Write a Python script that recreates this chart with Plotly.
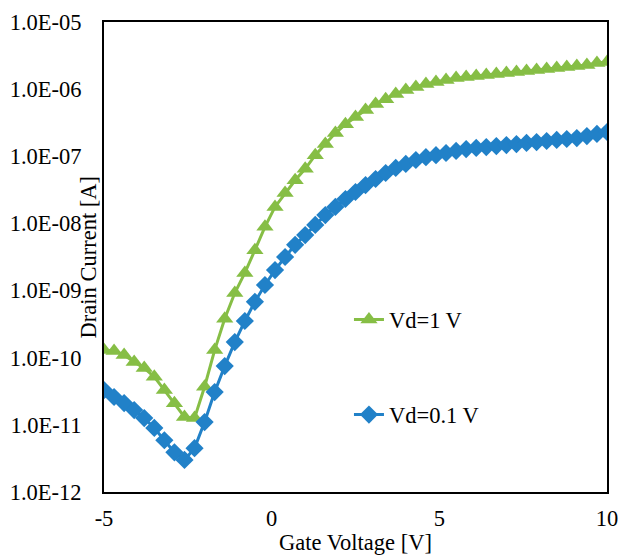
import numpy as np
import plotly.graph_objects as go

# Gate voltage sweep: -5 V to 10 V in 0.3 V steps (51 points)
gate_voltage = [round(-5 + 0.3 * i, 2) for i in range(51)]

drain_vd1 = [
    1.30e-10, 1.26e-10, 1.10e-10, 8.6e-11, 7.0e-11, 5.2e-11, 3.3e-11, 2.1e-11,
    1.31e-11, 1.26e-11, 3.7e-11, 1.30e-10, 3.8e-10, 9.2e-10, 1.83e-9, 4.0e-9,
    8.9e-9, 1.76e-8, 2.84e-8, 4.4e-8, 6.5e-8, 1.04e-7, 1.52e-7, 2.22e-7,
    3.0e-7, 3.85e-7, 4.9e-7, 6.0e-7, 7.1e-7, 8.5e-7, 9.7e-7, 1.08e-6,
    1.19e-6, 1.28e-6, 1.37e-6, 1.47e-6, 1.52e-6, 1.57e-6, 1.63e-6, 1.68e-6,
    1.74e-6, 1.80e-6, 1.86e-6, 1.93e-6, 2.00e-6, 2.07e-6, 2.14e-6, 2.21e-6,
    2.29e-6, 2.45e-6, 2.54e-6,
]

drain_vd01 = [
    3.3e-11, 2.60e-11, 2.11e-11, 1.66e-11, 1.26e-11, 9.0e-12, 5.9e-12, 3.9e-12,
    3.0e-12, 4.5e-12, 1.10e-11, 3.08e-11, 7.5e-11, 1.71e-10, 3.52e-10, 6.8e-10,
    1.21e-9, 2.02e-9, 3.16e-9, 4.8e-9, 6.7e-9, 9.5e-9, 1.33e-8, 1.76e-8,
    2.31e-8, 2.94e-8, 3.73e-8, 4.59e-8, 5.64e-8, 6.7e-8, 7.7e-8, 8.8e-8,
    9.7e-8, 1.04e-7, 1.12e-7, 1.20e-7, 1.28e-7, 1.33e-7, 1.37e-7, 1.42e-7,
    1.47e-7, 1.52e-7, 1.58e-7, 1.63e-7, 1.69e-7, 1.75e-7, 1.81e-7, 1.87e-7,
    2.00e-7, 2.15e-7, 2.30e-7,
]

x_tickvals = [-5, 0, 5, 10]
x_ticktext = ["-5", "0", "5", "10"]
y_tickvals = [1e-12, 1e-11, 1e-10, 1e-9, 1e-8, 1e-7, 1e-6, 1e-5]
y_ticktext = ["1.0E-12", "1.0E-11", "1.0E-10", "1.0E-09",
              "1.0E-08", "1.0E-07", "1.0E-06", "1.0E-05"]

GREEN = "#86BE45"
BLUE = "#2181C8"
FONT = "Liberation Serif, Times New Roman, serif"
FS = 22.5

fig = go.Figure()
fig.add_trace(go.Scatter(
    x=gate_voltage, y=drain_vd1, mode="lines+markers", name="Vd=1 V",
    line=dict(color=GREEN, width=3),
    marker=dict(symbol="triangle-up", size=15, color=GREEN),
    legend="legend", showlegend=True,
))
fig.add_trace(go.Scatter(
    x=gate_voltage, y=drain_vd01, mode="lines+markers", name="Vd=0.1 V",
    line=dict(color=BLUE, width=3),
    marker=dict(symbol="diamond", size=14, color=BLUE),
    legend="legend2", showlegend=True,
))

fig.update_layout(
    width=619, height=556,
    margin=dict(l=104, r=12, t=22, b=64),
    showlegend=True,
    paper_bgcolor="white", plot_bgcolor="white",
    font=dict(family=FONT, size=FS, color="black"),
    xaxis=dict(
        range=[-5, 10], tickvals=x_tickvals, ticktext=x_ticktext, ticks="",
        showgrid=False, zeroline=False, showline=True, linecolor="black",
        linewidth=2, mirror=True, ticklabelstandoff=5, automargin=False,
        tickfont=dict(family=FONT, size=FS, color="black"),
    ),
    yaxis=dict(
        type="log", range=[-12, -5], tickvals=y_tickvals, ticktext=y_ticktext,
        ticks="", showgrid=False, zeroline=False, showline=True,
        linecolor="black", linewidth=2, mirror=True, ticklabelstandoff=16,
        automargin=False,
        tickfont=dict(family=FONT, size=FS, color="black"),
    ),
    legend=dict(
        x=0.487, y=0.366, xanchor="left", yanchor="middle",
        bgcolor="rgba(0,0,0,0)", font=dict(family=FONT, size=FS, color="black"),
    ),
    legend2=dict(
        x=0.487, y=0.164, xanchor="left", yanchor="middle",
        bgcolor="rgba(0,0,0,0)", font=dict(family=FONT, size=FS, color="black"),
    ),
    annotations=[
        dict(text="Drain Current [A]", xref="paper", yref="paper",
             x=-0.031, y=0.5, xanchor="center", yanchor="middle",
             textangle=-90, showarrow=False,
             font=dict(family=FONT, size=FS, color="black")),
        dict(text="Gate Voltage [V]", xref="paper", yref="paper",
             x=0.5, y=-0.108, xanchor="center", yanchor="middle",
             showarrow=False,
             font=dict(family=FONT, size=FS, color="black")),
    ],
)

fig.write_html(
    "out.html",
    config={"displayModeBar": False},
    post_script="document.body.style.margin='0';document.body.style.overflow='hidden';",
)
